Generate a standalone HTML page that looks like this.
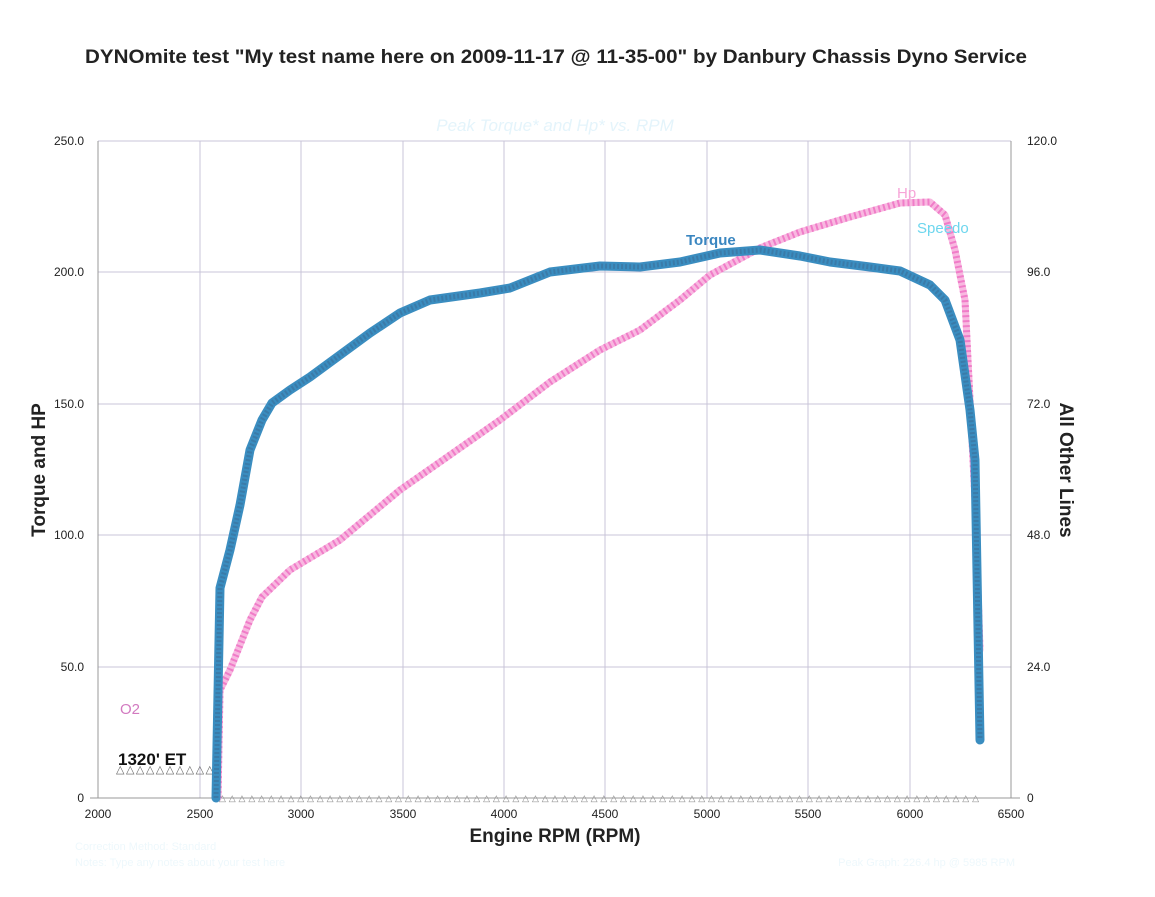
<!DOCTYPE html>
<html><head><meta charset="utf-8"><style>
body{margin:0;background:#fff;}
svg text{font-family:"Liberation Sans",Arial,sans-serif;}
</style></head><body>
<svg width="1155" height="892" viewBox="0 0 1155 892" xmlns="http://www.w3.org/2000/svg">
<rect width="1155" height="892" fill="#fff"/>
<text x="556" y="63" font-size="19" font-weight="bold" text-anchor="middle" fill="#222" textLength="942" lengthAdjust="spacingAndGlyphs">DYNOmite test "My test name here on 2009-11-17 @ 11-35-00" by Danbury Chassis Dyno Service</text>
<text x="555" y="131" font-size="17" font-style="italic" text-anchor="middle" fill="#e4f4fb">Peak Torque* and Hp* vs. RPM</text>
<g stroke="#c8c4d8" stroke-width="1">
<line x1="98" y1="141" x2="1011" y2="141"/>
<line x1="98" y1="272" x2="1011" y2="272"/>
<line x1="98" y1="404" x2="1011" y2="404"/>
<line x1="98" y1="535" x2="1011" y2="535"/>
<line x1="98" y1="667" x2="1011" y2="667"/>
<line x1="200" y1="141" x2="200" y2="798"/>
<line x1="301" y1="141" x2="301" y2="798"/>
<line x1="403" y1="141" x2="403" y2="798"/>
<line x1="504" y1="141" x2="504" y2="798"/>
<line x1="605" y1="141" x2="605" y2="798"/>
<line x1="707" y1="141" x2="707" y2="798"/>
<line x1="808" y1="141" x2="808" y2="798"/>
<line x1="910" y1="141" x2="910" y2="798"/>
</g>
<g stroke="#999" stroke-width="1">
<line x1="98" y1="141" x2="98" y2="798"/>
<line x1="1011" y1="141" x2="1011" y2="798"/>
<line x1="90" y1="798" x2="1020" y2="798"/>
</g>
<g font-size="12" fill="#222">
<text x="84" y="145" text-anchor="end">250.0</text>
<text x="84" y="276" text-anchor="end">200.0</text>
<text x="84" y="408" text-anchor="end">150.0</text>
<text x="84" y="539" text-anchor="end">100.0</text>
<text x="84" y="671" text-anchor="end">50.0</text>
<text x="84" y="802" text-anchor="end">0</text>
<text x="1027" y="145">120.0</text>
<text x="1027" y="276">96.0</text>
<text x="1027" y="408">72.0</text>
<text x="1027" y="539">48.0</text>
<text x="1027" y="671">24.0</text>
<text x="1027" y="802">0</text>
<text x="98" y="818" text-anchor="middle">2000</text>
<text x="200" y="818" text-anchor="middle">2500</text>
<text x="301" y="818" text-anchor="middle">3000</text>
<text x="403" y="818" text-anchor="middle">3500</text>
<text x="504" y="818" text-anchor="middle">4000</text>
<text x="605" y="818" text-anchor="middle">4500</text>
<text x="707" y="818" text-anchor="middle">5000</text>
<text x="808" y="818" text-anchor="middle">5500</text>
<text x="910" y="818" text-anchor="middle">6000</text>
<text x="1011" y="818" text-anchor="middle">6500</text>
</g>
<text x="555" y="842" font-size="19" font-weight="bold" text-anchor="middle" fill="#222">Engine RPM (RPM)</text>
<text transform="translate(45,470) rotate(-90)" font-size="19" font-weight="bold" text-anchor="middle" fill="#222">Torque and HP</text>
<text transform="translate(1060,470) rotate(90)" font-size="19" font-weight="bold" text-anchor="middle" fill="#222">All Other Lines</text>
<text x="120" y="714" font-size="15" fill="#d27ac0">O2</text>
<text x="118" y="765" font-size="17" font-weight="bold" fill="#111">1320' ET</text>
<text x="116" y="773" font-size="11" fill="#666" textLength="98" lengthAdjust="spacing">△△△△△△△△△△</text>
<text x="219" y="801" font-size="9" fill="#888" textLength="760" lengthAdjust="spacing">△△△△△△△△△△△△△△△△△△△△△△△△△△△△△△△△△△△△△△△△△△△△△△△△△△△△△△△△△△△△△△△△△△△△△△△△△△△△△△</text>
<g fill="none" stroke-linejoin="round" stroke-linecap="round">
<path d="M218 798 L220 690 L230 670 L250 620 L262 597 L290 570 L340 540 L400 490 L450 455 L500 420 L550 382 L600 350 L640 330 L680 300 L710 275 L760 248 L800 232 L850 217 L900 203 L930 202 L945 215 L955 250 L965 300 L970 400 L975 500 L980 650" stroke="#f8b8e0" stroke-width="7"/>
<path d="M218 798 L220 690 L230 670 L250 620 L262 597 L290 570 L340 540 L400 490 L450 455 L500 420 L550 382 L600 350 L640 330 L680 300 L710 275 L760 248 L800 232 L850 217 L900 203 L930 202 L945 215 L955 250 L965 300 L970 400 L975 500 L980 650" stroke="#f07cc8" stroke-width="7" stroke-dasharray="2 3" stroke-linecap="butt"/>
<path d="M216 798 L220 588 L230 550 L240 505 L250 450 L262 420 L272 403 L290 390 L310 377 L340 355 L370 333 L400 313 L430 300 L480 293 L510 288 L550 272 L600 266 L640 267 L680 262 L720 253 L760 250 L800 256 L830 262 L870 267 L900 271 L930 285 L945 300 L960 340 L970 410 L975 460 L980 740" stroke="#3a8dc0" stroke-width="9"/>
<path d="M216 798 L220 588 L230 550 L240 505 L250 450 L262 420 L272 403 L290 390 L310 377 L340 355 L370 333 L400 313 L430 300 L480 293 L510 288 L550 272 L600 266 L640 267 L680 262 L720 253 L760 250 L800 256 L830 262 L870 267 L900 271 L930 285 L945 300 L960 340 L970 410 L975 460 L980 740" stroke="#3a6f9a" stroke-width="5" stroke-dasharray="2 2" stroke-linecap="butt" opacity="0.6"/>
</g>
<text x="686" y="245" font-size="15" font-weight="bold" fill="#3a86c0">Torque</text>
<text x="897" y="198" font-size="15" fill="#f7a5d8">Hp</text>
<text x="917" y="233" font-size="15" fill="#6dd6ee">Speedo</text>
<text x="75" y="850" font-size="11" fill="#eef8fc">Correction Method: Standard</text>
<text x="75" y="866" font-size="11" fill="#eef8fc">Notes: Type any notes about your test here</text>
<text x="1015" y="866" font-size="11" fill="#eef8fc" text-anchor="end">Peak Graph: 226.4 hp @ 5985 RPM</text>
</svg>
</body></html>
